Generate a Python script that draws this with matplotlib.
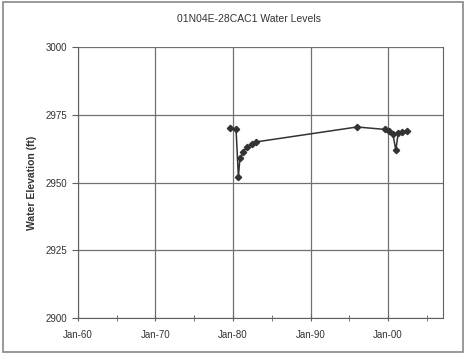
import matplotlib.pyplot as plt
from matplotlib.patches import Rectangle

plt.rcParams['font.family'] = ['Liberation Sans', 'DejaVu Sans']

# decimal years and water elevation (ft)
years = [1979.6, 1980.4, 1980.7, 1980.9, 1981.3, 1981.8, 1982.4, 1983.0,
         1996.0, 1999.6, 2000.1, 2000.6, 2001.0, 2001.3, 2001.8, 2002.4]
levels = [2970.1, 2969.7, 2952.0, 2959.0, 2961.2, 2963.0, 2964.2, 2965.0,
          2970.5, 2969.6, 2969.0, 2968.0, 2962.0, 2968.2, 2968.8, 2969.2]

xticks = [1960, 1970, 1980, 1990, 2000]
xlabels = ['Jan-60', 'Jan-70', 'Jan-80', 'Jan-90', 'Jan-00']
yticks = [2900, 2925, 2950, 2975, 3000]

fig = plt.figure(figsize=(4.66, 3.59), dpi=100)
fig.patches.append(Rectangle((0.006, 0.02), 0.988, 0.975, transform=fig.transFigure,
                             fill=False, edgecolor='#888888', lw=1.2))
ax = fig.add_axes([0.167, 0.114, 0.784, 0.755])

ax.plot(years, levels, color='#333333', lw=1.1, marker='D', ms=3.2,
        markerfacecolor='#333333', markeredgecolor='#333333')

ax.set_xlim(1960, 2007.1)
ax.set_ylim(2900, 3000)
ax.set_xticks(xticks)
ax.set_xticklabels(xlabels)
ax.set_xticks([1965, 1975, 1985, 1995, 2005], minor=True)
ax.set_yticks(yticks)
ax.grid(True, which='major', color='#707070', lw=0.9)
for s in ax.spines.values():
    s.set_color('#606060')
ax.spines['top'].set_visible(False)
ax.tick_params(axis='x', which='both', direction='inout', length=5, color='#606060',
               labelsize=7, colors='#333333', pad=6)
ax.tick_params(axis='y', direction='out', length=4, color='#606060',
               labelsize=7, colors='#333333')
ax.set_ylabel('Water Elevation (ft)', fontsize=7.5, color='#333333', fontweight='bold', labelpad=6)
fig.text(0.535, 0.948, '01N04E-28CAC1 Water Levels', ha='center', va='center',
         fontsize=7.5, color='#333333')

fig.savefig('out.png', dpi=100)
